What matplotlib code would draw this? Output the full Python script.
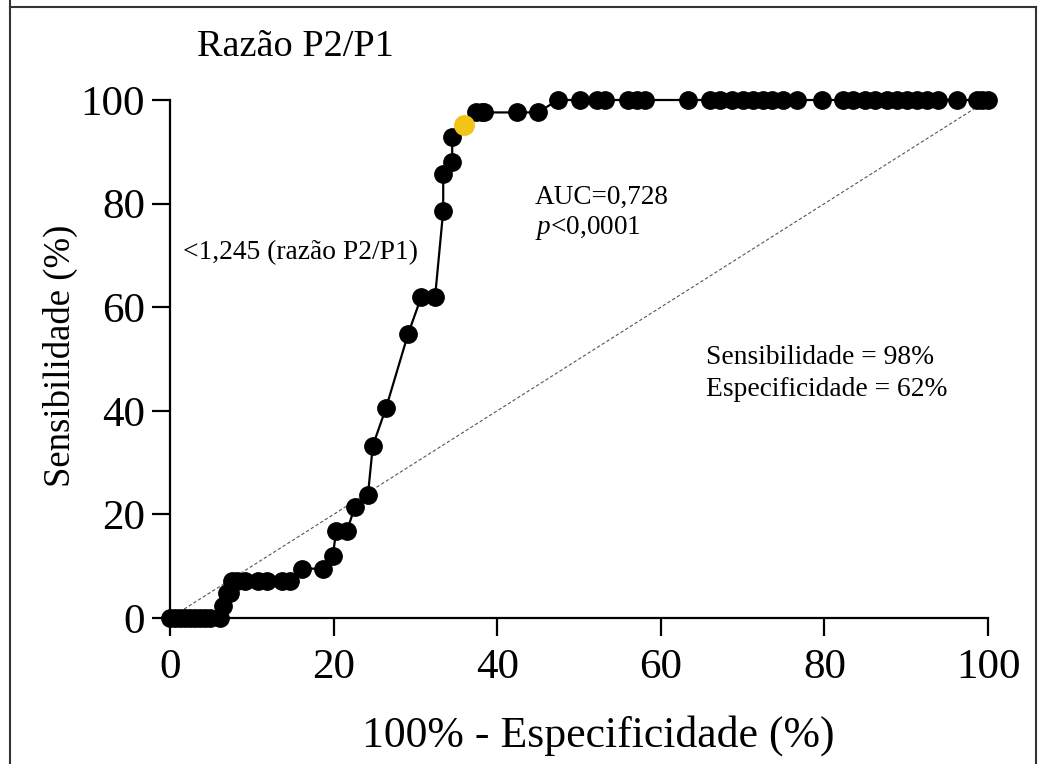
import matplotlib
matplotlib.use("Agg")
import matplotlib.pyplot as plt
from matplotlib.lines import Line2D

plt.rcParams["font.family"] = ["Liberation Serif", "DejaVu Serif"]
plt.rcParams["mathtext.fontset"] = "custom"
plt.rcParams["mathtext.it"] = "Liberation Serif:italic"
plt.rcParams["mathtext.rm"] = "Liberation Serif"

# ROC points: 100% - specificity (x) and sensitivity (y), in %
fpr = [0.0, 0.6, 1.2, 1.8, 2.4, 3.1, 3.7, 4.3, 4.9, 6.1,
       6.5, 7.0, 7.3, 7.6, 8.2, 9.2, 10.8, 11.9, 13.7, 14.7,
       16.1, 18.7, 19.9, 20.3, 21.6, 22.6, 24.2, 24.8, 26.4, 29.1,
       30.7, 32.4, 33.4, 33.4, 34.5, 34.5, 35.9, 37.4, 38.1, 38.4,
       42.4, 45.0, 47.4, 50.1, 52.2, 53.2, 56.0, 57.1, 58.1, 63.3,
       66.0, 67.2, 68.7, 70.0, 71.3, 72.5, 73.6, 74.9, 76.7, 79.7,
       82.3, 83.5, 85.0, 86.2, 87.7, 88.9, 90.1, 91.3, 92.5, 93.9,
       96.2, 98.7, 99.3, 100.0]
sens = [0.0, 0.0, 0.0, 0.0, 0.0, 0.0, 0.0, 0.0, 0.0, 0.0,
        2.38, 4.76, 4.76, 7.14, 7.14, 7.14, 7.14, 7.14, 7.14, 7.14,
        9.52, 9.52, 11.9, 16.7, 16.7, 21.4, 23.8, 33.3, 40.5, 54.8,
        61.9, 61.9, 78.6, 85.7, 88.1, 92.9, 95.2, 97.6, 97.6, 97.6,
        97.6, 97.6, 100.0, 100.0, 100.0, 100.0, 100.0, 100.0, 100.0, 100.0,
        100.0, 100.0, 100.0, 100.0, 100.0, 100.0, 100.0, 100.0, 100.0, 100.0,
        100.0, 100.0, 100.0, 100.0, 100.0, 100.0, 100.0, 100.0, 100.0, 100.0,
        100.0, 100.0, 100.0, 100.0]
cut_idx = 36  # optimal cut-off point (highlighted)
ticks = [0, 20, 40, 60, 80, 100]

fig = plt.figure(figsize=(10.46, 7.64), dpi=100)
ax = fig.add_axes([170 / 1046, 146 / 764, 818 / 1046, 518 / 764])

ax.plot([0, 100], [0, 100], ls=(0, (3, 2)), color="#555555", lw=0.8, zorder=1)
ax.plot(fpr, sens, color="black", lw=1.6, marker="o", ms=12.5,
        mfc="black", mec="black", clip_on=False, zorder=3)
ax.plot(fpr[cut_idx], sens[cut_idx], marker="o", ms=14, color="#f2c418",
        mec="#f2c418", clip_on=False, zorder=4)

ax.set_xlim(0, 100)
ax.set_ylim(0, 100)
ax.set_xticks(ticks)
ax.set_yticks(ticks)
for s in ["top", "right"]:
    ax.spines[s].set_visible(False)
for s in ["left", "bottom"]:
    ax.spines[s].set_linewidth(1.6)
ax.tick_params(direction="out", length=13, width=1.6, labelsize=31)
ax.tick_params(axis="x", pad=9)
ax.tick_params(axis="y", pad=5)

ax.set_xlabel("100% - Especificidade (%)", fontsize=31.5, labelpad=20)
ax.xaxis.label.set_x(0.524)
ax.set_ylabel("Sensibilidade (%)", fontsize=26.5, labelpad=2)
ax.yaxis.label.set_y(0.506)

fig.text(197 / 1046, 1 - 47 / 764, "Razão P2/P1", fontsize=27.5,
         ha="left", va="center")

ax.text(44.6, 81.1, "AUC=0,728", fontsize=19.6, va="center")
ax.text(44.6, 75.3, r"$\mathit{p}$<0,0001", fontsize=19.6, va="center")
ax.text(1.6, 70.5, "<1,245 (razão P2/P1)", fontsize=19.8, va="center")
ax.text(65.5, 50.2, "Sensibilidade = 98%", fontsize=19.8, va="center")
ax.text(65.5, 44.2, "Especificidade = 62%", fontsize=19.8, va="center")

# thin frame around the picture
frame = [((10, 10), (0, 764)), ((10, 1036), (7, 7)), ((1036, 1036), (7, 764))]
for xs, ys in frame:
    fig.add_artist(Line2D([x / 1046 for x in xs], [1 - y / 764 for y in ys],
                          color="#333333", lw=1.5, transform=fig.transFigure))

fig.savefig("out.png", dpi=100)
